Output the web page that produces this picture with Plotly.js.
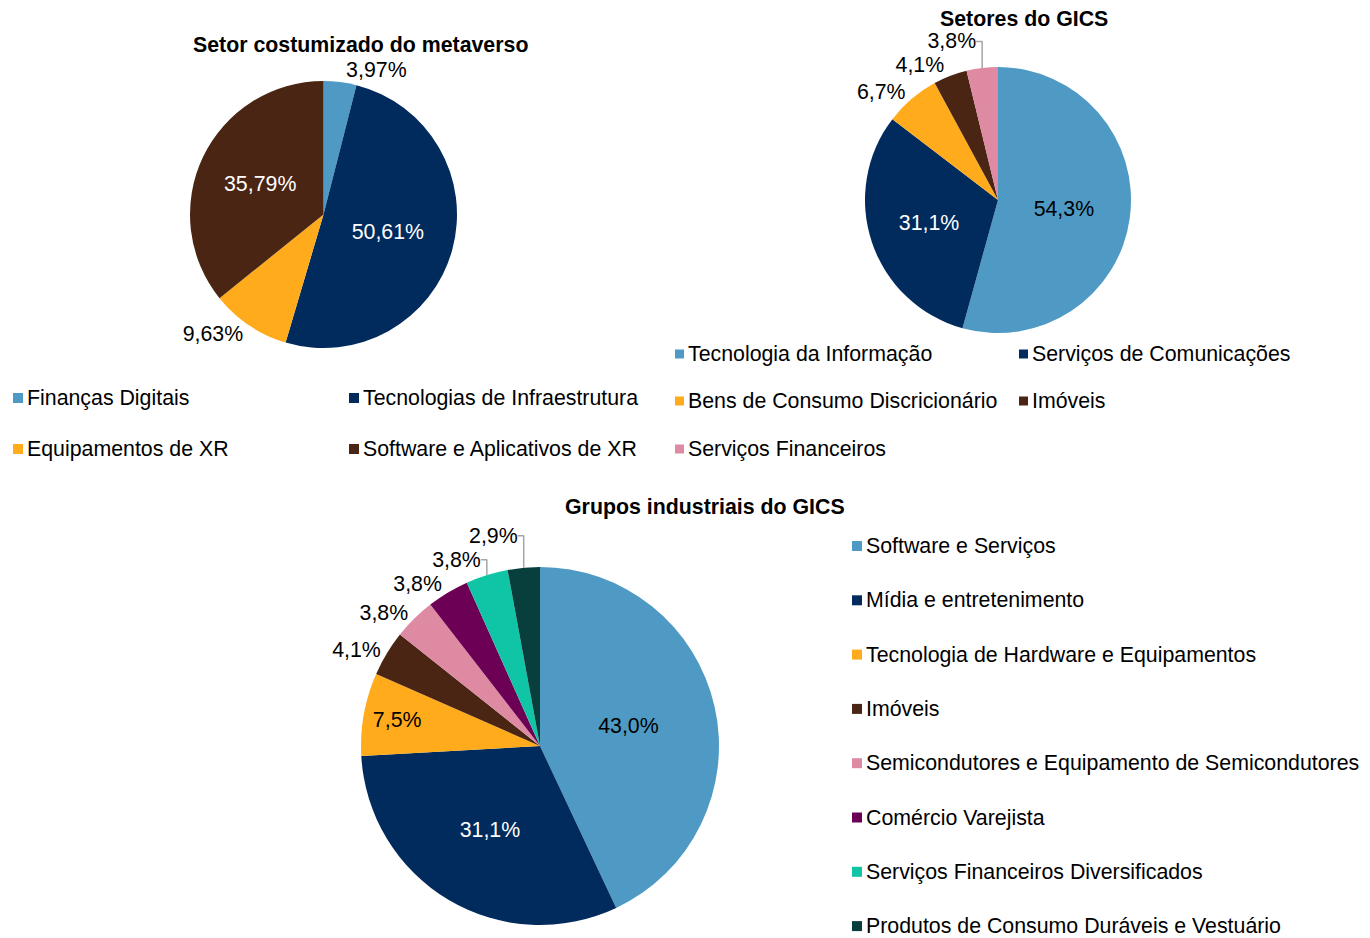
<!DOCTYPE html>
<html><head><meta charset="utf-8">
<script src="https://cdn.plot.ly/plotly-3.0.1.min.js"></script>
<style>html,body{margin:0;padding:0;background:#fff}</style>
</head><body>
<div id="chart" style="width:1370px;height:938px"></div>
<script>
// ---- data ----
const title1 = 'Setor costumizado do metaverso';
const labels1 = ['Finanças Digitais', 'Tecnologias de Infraestrutura', 'Equipamentos de XR', 'Software e Aplicativos de XR'];
const values1 = [3.97, 50.61, 9.63, 35.79];
const colors1 = ['#4E9AC4', '#002B5C', '#FFAB1B', '#4A2514'];

const title2 = 'Setores do GICS';
const labels2 = ['Tecnologia da Informação', 'Serviços de Comunicações', 'Bens de Consumo Discricionário', 'Imóveis', 'Serviços Financeiros'];
const values2 = [54.3, 31.1, 6.7, 4.1, 3.8];
const colors2 = ['#4E9AC4', '#002B5C', '#FFAB1B', '#4A2514', '#DE8AA3'];

const title3 = 'Grupos industriais do GICS';
const labels3 = ['Software e Serviços', 'Mídia e entretenimento', 'Tecnologia de Hardware e Equipamentos', 'Imóveis',
  'Semicondutores e Equipamento de Semicondutores', 'Comércio Varejista', 'Serviços Financeiros Diversificados',
  'Produtos de Consumo Duráveis e Vestuário'];
const values3 = [43.0, 31.1, 7.5, 4.1, 3.8, 3.8, 3.8, 2.9];
const colors3 = ['#4E9AC4', '#002B5C', '#FFAB1B', '#4A2514', '#DE8AA3', '#6B0054', '#10C5A6', '#083F3C'];

// ---- layout constants ----
const W = 1370, H = 938;
const FONT = 'Arial, "Liberation Sans", sans-serif';
const FS = 21.33;
const px = x => x / W;
const py = y => 1 - y / H;

function pieTrace(labels, values, colors, dom, fmt, pos, inCol) {
  return {
    type: 'pie', labels: labels, values: values, sort: false, direction: 'clockwise', rotation: 0,
    marker: {colors: colors, line: {width: 0}},
    textinfo: 'text', texttemplate: fmt, textposition: pos,
    insidetextorientation: 'horizontal',
    insidetextfont: {family: FONT, size: FS, color: inCol},
    outsidetextfont: {family: FONT, size: FS, color: '#000'},
    domain: {x: [px(dom[0]), px(dom[1])], y: [py(dom[3]), py(dom[2])]},
    showlegend: false, hoverinfo: 'skip'
  };
}

const data = [
  pieTrace(labels1, values1, colors1, [190, 457, 81, 348], '%{value:.2f}%',
    ['outside', 'inside', 'outside', 'inside'], ['#000', '#fff', '#000', '#fff']),
  pieTrace(labels2, values2, colors2, [865, 1131, 67, 333], '%{value:.1f}%',
    ['inside', 'inside', 'outside', 'outside', 'outside'], ['#000', '#fff', '#000', '#fff', '#000']),
  pieTrace(labels3, values3, colors3, [361, 719, 567, 925], '%{value:.1f}%',
    ['inside', 'inside', 'inside', 'outside', 'outside', 'outside', 'outside', 'outside'],
    ['#000', '#fff', '#000', '#fff', '#000', '#fff', '#000', '#fff'])
];

const annotations = [];
const shapes = [];
function addTitle(text, cx, cy) {
  annotations.push({text: '<b>' + text + '</b>', x: px(cx), y: py(cy), xref: 'paper', yref: 'paper',
    xanchor: 'center', yanchor: 'middle', showarrow: false, font: {family: FONT, size: FS, color: '#000'}});
}
function addLegend(labels, colors, cols, rows, sq) {
  labels.forEach((lab, i) => {
    const c = i % cols.length, r = Math.floor(i / cols.length);
    const x0 = cols[c], yc = rows[r];
    shapes.push({type: 'rect', xref: 'paper', yref: 'paper', x0: px(x0), x1: px(x0 + sq),
      y0: py(yc + sq / 2), y1: py(yc - sq / 2), fillcolor: colors[i], line: {width: 0}});
    annotations.push({text: lab, x: px(x0 + sq + 2), y: py(yc), xref: 'paper', yref: 'paper',
      xanchor: 'left', yanchor: 'middle', showarrow: false, font: {family: FONT, size: FS, color: '#000'}});
  });
}
addTitle(title1, 360, 45);
addTitle(title2, 1024, 19);
addTitle(title3, 705, 507);
addLegend(labels1, colors1, [13, 349], [398, 449], 10);
addLegend(labels2, colors2, [675, 1019], [354, 401, 449], 9);
addLegend(labels3, colors3, [852], [546, 600.3, 654.6, 708.9, 763.2, 817.5, 871.8, 926.1], 10);

const layout = {
  width: W, height: H, margin: {l: 0, r: 0, t: 0, b: 0, autoexpand: false},
  paper_bgcolor: '#fff', plot_bgcolor: '#fff',
  separators: ',.', showlegend: false,
  font: {family: FONT, size: FS, color: '#000'},
  annotations: annotations, shapes: shapes
};
Plotly.newPlot('chart', data, layout, {displayModeBar: false, staticPlot: true}).then(function () {
  // leader lines of moved outside labels in light grey, as in the reference
  document.querySelectorAll('#chart path.textline').forEach(function (p) {
    p.style.stroke = '#A6A6A6';
    p.style.strokeWidth = '1.5px';
  });
});
</script>
</body></html>
